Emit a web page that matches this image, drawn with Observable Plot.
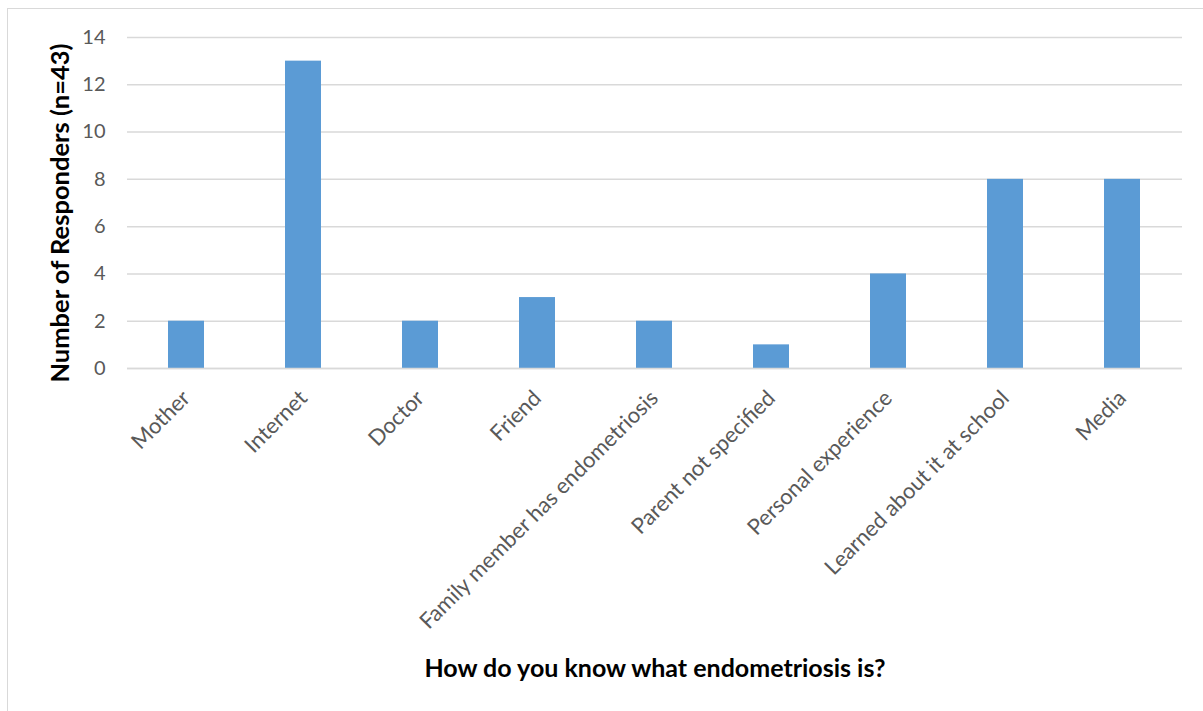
<!DOCTYPE html>
<html>
<head>
<meta charset="utf-8">
<script src="https://cdn.jsdelivr.net/npm/d3@7"></script>
<script src="https://cdn.jsdelivr.net/npm/@observablehq/plot@0.6"></script>
<style>
  html, body { margin: 0; padding: 0; background: #fff; overflow: hidden; }
  #chart { position: relative; width: 1203px; height: 711px; }
  #border {
    position: absolute; left: 7px; top: 8px; width: 1220px; height: 730px;
    border: 1.5px solid #d9d9d9; box-sizing: border-box;
  }
  #chart svg { position: absolute; left: 0; top: 0; }
</style>
</head>
<body>
<div id="chart"><div id="border"></div></div>
<script>
// Sources of knowledge about endometriosis
const sources = [
  "Mother",
  "Internet",
  "Doctor",
  "Friend",
  "Family member has endometriosis",
  "Parent not specified",
  "Personal experience",
  "Learned about it at school",
  "Media"
];
const responders = [2, 13, 2, 3, 2, 1, 4, 8, 8];
const yTicks = [0, 2, 4, 6, 8, 10, 12, 14];
const yTitle = "Number of Responders (n=43)";
const xTitle = "How do you know what endometriosis is?";

const rows = sources.map((s, i) => ({source: s, count: responders[i]}));

const plot = Plot.plot({
  width: 1203,
  height: 711,
  marginLeft: 127,
  marginRight: 21,
  marginTop: 37,
  marginBottom: 343,
  style: {fontFamily: "Lato, sans-serif", background: "transparent"},
  x: {domain: sources, paddingInner: 0.69, paddingOuter: 0.345},
  y: {domain: [0, 14]},
  marks: [
    Plot.gridY(yTicks, {stroke: "#d9d9d9", strokeOpacity: 1, strokeWidth: 1.5}),
    Plot.barY(rows, {x: "source", y: "count", fill: "#5b9bd5"}),
    Plot.ruleY([0], {stroke: "#d9d9d9", strokeWidth: 1.5}),
    Plot.axisY(yTicks, {
      tickSize: 0, tickPadding: 22, fontSize: 20, fill: "#595959", label: null
    }),
    Plot.axisX({
      tickSize: 0, tickPadding: 26, tickRotate: -45, fontSize: 22, fill: "#595959", label: null
    }),
    // axis titles
    Plot.text([yTitle], {
      frameAnchor: "left", rotate: -90, dx: -67, dy: 10,
      textAnchor: "middle", lineAnchor: "middle",
      fontSize: 25.5, fontWeight: "bold", fill: "#000"
    }),
    Plot.text([xTitle], {
      frameAnchor: "bottom", dy: 300,
      textAnchor: "middle", lineAnchor: "middle",
      fontSize: 25, fontWeight: "bold", fill: "#000"
    })
  ]
});
document.getElementById("chart").appendChild(plot);
</script>
</body>
</html>
